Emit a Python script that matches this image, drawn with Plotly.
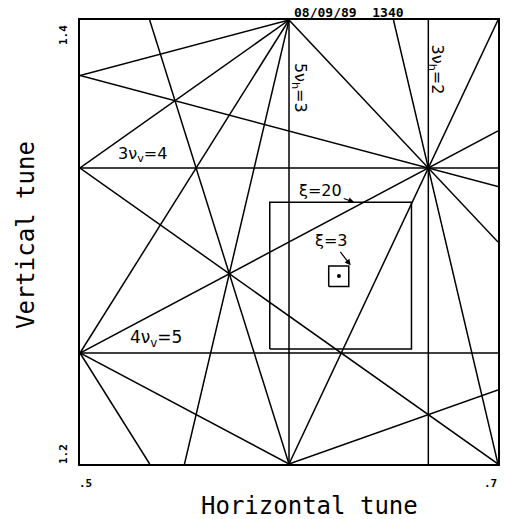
import plotly.graph_objects as go

# tune window
NUX_RANGE = [0.5, 0.7]
NUY_RANGE = [1.2, 1.4]

# resonance lines m*nux + n*nuy = p (all orders up to 5 crossing the window)
RES_M = [5, 3, 0, 0, 1, 2, 1, 1, 3, 1, 4, 4, 3, 3, 2, 2, 1, 1]
RES_N = [0, 0, 3, 4, 1, -1, 2, -2, 1, -3, 1, -1, 2, -2, 3, -3, 4, -4]
RES_P = [3, 2, 4, 5, 2, 0, 3, -2, 3, -3, 4, 1, 4, -1, 5, -3, 6, -5]

# working point and the two tune-spread boxes (xi = 20, xi = 3)
TUNE_X = 0.6239
TUNE_Y = 1.2847
BOX_X0 = [0.5908, 0.6190]
BOX_X1 = [0.6586, 0.6286]
BOX_Y0 = [1.2518, 1.2799]
BOX_Y1 = [1.3179, 1.2892]


def clip_line(m, n, p, xr, yr):
    eps = 1e-9
    pts = []
    if n == 0:
        x = p / m
        return [(x, yr[0]), (x, yr[1])]
    if m == 0:
        y = p / n
        return [(xr[0], y), (xr[1], y)]
    for x in xr:
        y = (p - m * x) / n
        if yr[0] - eps <= y <= yr[1] + eps:
            pts.append((x, y))
    for y in yr:
        x = (p - n * y) / m
        if xr[0] - eps <= x <= xr[1] + eps:
            pts.append((x, y))
    out = []
    for pt in pts:
        if all(abs(pt[0] - q[0]) > 1e-6 or abs(pt[1] - q[1]) > 1e-6 for q in out):
            out.append(pt)
    return out[:2]


xs, ys = [], []
for m, n, p in zip(RES_M, RES_N, RES_P):
    seg = clip_line(m, n, p, NUX_RANGE, NUY_RANGE)
    if len(seg) == 2:
        xs += [seg[0][0], seg[1][0], None]
        ys += [seg[0][1], seg[1][1], None]

fig = go.Figure()
fig.add_trace(go.Scatter(
    x=xs, y=ys, mode="lines",
    line=dict(color="black", width=1.5),
    hoverinfo="skip", showlegend=False,
))

# boxes
for x0, x1, y0, y1 in zip(BOX_X0, BOX_X1, BOX_Y0, BOX_Y1):
    fig.add_trace(go.Scatter(
        x=[x0, x1, x1, x0, x0], y=[y0, y0, y1, y1, y0], mode="lines",
        line=dict(color="black", width=1.5),
        hoverinfo="skip", showlegend=False,
    ))

fig.add_trace(go.Scatter(
    x=[TUNE_X], y=[TUNE_Y], mode="markers",
    marker=dict(color="black", size=4),
    hoverinfo="skip", showlegend=False,
))

hand = dict(family="DejaVu Sans", color="black")
mono = dict(family="DejaVu Sans Mono", color="black")

annotations = [
    # handwritten labels
    dict(x=0.530, y=1.3333, text="3ν<sub>v</sub>=4", yanchor="bottom", yshift=1,
         font=dict(size=16, **hand)),
    dict(x=0.5362, y=1.25, text="4ν<sub>v</sub>=5", yanchor="bottom", yshift=1,
         font=dict(size=17, **hand)),
    dict(x=0.6048, y=1.3694, text="5ν<sub>h</sub>=3", textangle=90,
         font=dict(size=16, **hand)),
    dict(x=0.6705, y=1.3775, text="3ν<sub>h</sub>=2", textangle=90,
         font=dict(size=16, **hand)),
    # labels with arrows onto the boxes
    dict(x=0.6312, y=1.3179, ax=0.6152, ay=1.3234, axref="x", ayref="y",
         text="ξ=20", showarrow=True, arrowhead=2, arrowsize=1, arrowwidth=1.2,
         arrowcolor="black", standoff=0, font=dict(size=16, **hand)),
    dict(x=0.6295, y=1.2895, ax=0.6205, ay=1.3005, axref="x", ayref="y",
         text="ξ=3", showarrow=True, arrowhead=2, arrowsize=1, arrowwidth=1.2,
         arrowcolor="black", standoff=0, font=dict(size=16, **hand)),
    # tick labels
    dict(xref="paper", x=0, xshift=-17, xanchor="center", y=1.4, yanchor="middle", yshift=-15,
         text="<b>1.4</b>", textangle=-90, font=dict(size=11, **mono)),
    dict(xref="paper", x=0, xshift=-17, xanchor="center", y=1.2, yanchor="middle", yshift=10,
         text="<b>1.2</b>", textangle=-90, font=dict(size=11, **mono)),
    dict(x=0.5, yref="paper", y=0, yshift=-19, xshift=5, xanchor="center", yanchor="middle",
         text="<b>.5</b>", font=dict(size=11, **mono)),
    dict(x=0.7, yref="paper", y=0, yshift=-19, xshift=-8, xanchor="center", yanchor="middle",
         text="<b>.7</b>", font=dict(size=11, **mono)),
    # axis titles
    dict(xref="paper", yref="paper", x=0.548, y=-0.0935, xanchor="center", yanchor="middle",
         text="Horizontal tune", font=dict(size=24, **mono)),
    dict(xref="paper", yref="paper", x=-0.129, y=0.516, xanchor="center", yanchor="middle",
         textangle=-90, text="Vertical tune", font=dict(size=24, **mono)),
    # plot stamp
    dict(xref="paper", yref="paper", x=0.643, y=1.016, xanchor="center", yanchor="middle",
         text="<b>08/09/89  1340</b>", font=dict(size=13, **mono)),
]
for a in annotations:
    a.setdefault("showarrow", False)
    a.setdefault("xref", "x")
    a.setdefault("yref", "y")

fig.update_layout(
    width=506, height=519,
    margin=dict(l=80, r=6, t=20, b=55),
    paper_bgcolor="white", plot_bgcolor="white",
    annotations=annotations,
    showlegend=False,
)
fig.update_xaxes(range=NUX_RANGE, showgrid=False, zeroline=False, showticklabels=False,
                 ticks="", showline=True, mirror=True, linecolor="black", linewidth=2)
fig.update_yaxes(range=NUY_RANGE, showgrid=False, zeroline=False, showticklabels=False,
                 ticks="", showline=True, mirror=True, linecolor="black", linewidth=2)

fig.write_html(
    "out.html",
    config={"displayModeBar": False},
    post_script="document.body.style.margin='0';document.body.style.overflow='hidden';",
)
